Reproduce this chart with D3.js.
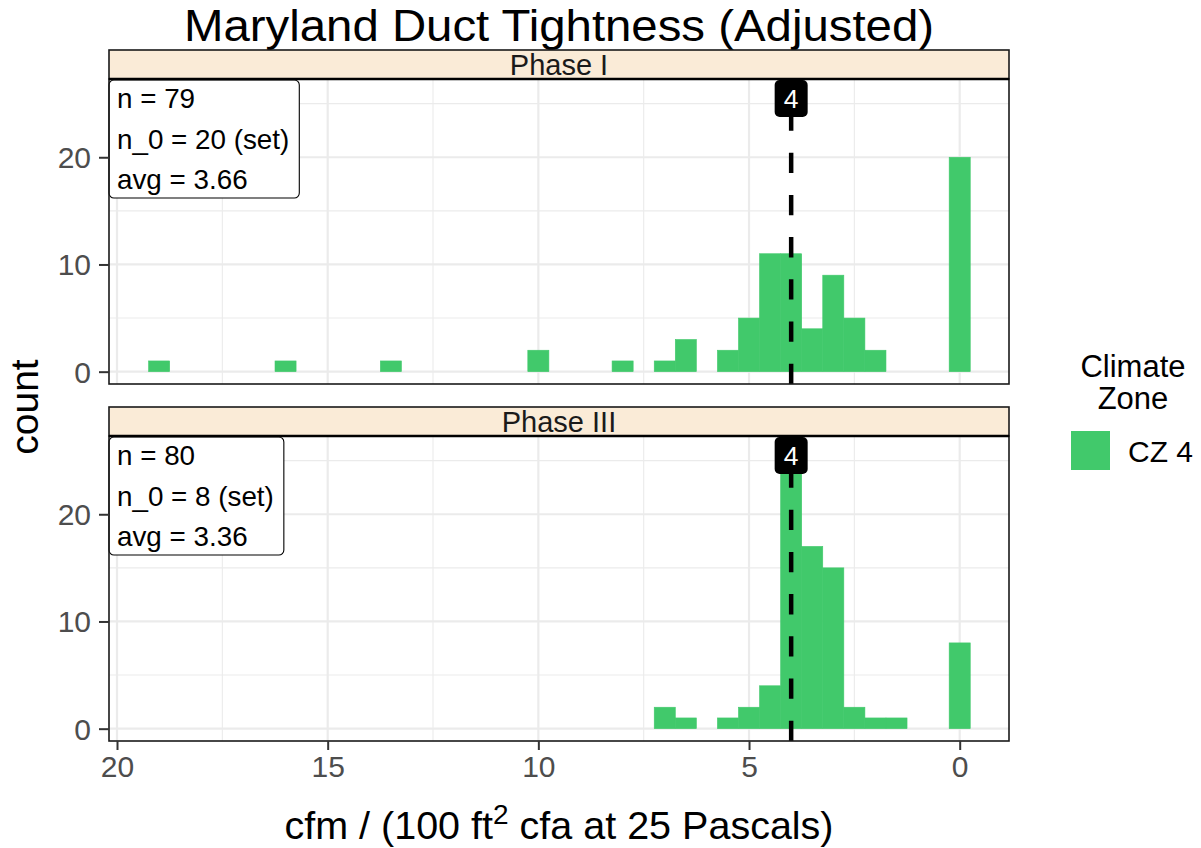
<!DOCTYPE html>
<html>
<head>
<meta charset="utf-8">
<script src="https://cdn.jsdelivr.net/npm/d3@7"></script>
<style>
  html, body { margin: 0; padding: 0; background: #fff; }
  svg { display: block; font-family: "Liberation Sans", Arial, Helvetica, sans-serif; }
</style>
</head>
<body>
<svg id="chart" width="1201" height="848"></svg>
<script>
// ---------------- data ----------------
const facets = ["Phase I", "Phase III"];
const binWidth = 0.5;
// bin centres (cfm / 100 ft2) and counts
const phase1Bins   = [19, 16, 13.5, 10, 8, 7, 6.5, 5.5, 5, 4.5, 4, 3.5, 3, 2.5, 2, 0];
const phase1Counts = [1,  1,  1,    2,  1, 1, 3,   2,   5, 11,  11, 4,   9, 5,   2, 20];
const phase3Bins   = [7, 6.5, 5.5, 5, 4.5, 4,  3.5, 3,  2.5, 2, 1.5, 0];
const phase3Counts = [2, 1,   1,   2, 4,   26, 17,  15, 2,   1, 1,   8];
const statN   = [79, 80];
const statN0  = [20, 8];
const statAvg = ["3.66", "3.36"];
const targetValue = 4;
const xTicks = [20, 15, 10, 5, 0];
const xMinor = [17.5, 12.5, 7.5, 2.5];
const yTicks = [0, 10, 20];
const yMinor = [5, 15, 25];
const legendLabels = ["CZ 4"];

// ---------------- layout ----------------
const svg = d3.select("#chart");
const left = 109, right = 1009;
const panels = [
  { stripTop: 50, top: 79, bottom: 384 },
  { stripTop: 407, top: 436, bottom: 741 }
];
const green = "#41C96B";
const gridCol = "#EBEBEB";

const x = d3.scaleLinear().domain([20.19, -1.17]).range([left, right]);

const seriesData = [
  phase1Bins.map((b, i) => ({ bin: b, count: phase1Counts[i] })),
  phase3Bins.map((b, i) => ({ bin: b, count: phase3Counts[i] }))
];

// title
svg.append("text")
  .attr("x", (left + right) / 2).attr("y", 40.5)
  .attr("text-anchor", "middle")
  .style("font-size", "44.5px").style("fill", "#000")
  .attr("textLength", 750).attr("lengthAdjust", "spacingAndGlyphs")
  .text("Maryland Duct Tightness (Adjusted)");

panels.forEach((p, pi) => {
  const y = d3.scaleLinear().domain([-1.15, 27.3]).range([p.bottom, p.top]);
  const g = svg.append("g");

  g.append("rect").attr("x", left).attr("y", p.top)
    .attr("width", right - left).attr("height", p.bottom - p.top).attr("fill", "#fff");

  // grid minor
  g.selectAll(".vminor").data(xMinor).enter().append("line")
    .attr("x1", d => x(d)).attr("x2", d => x(d)).attr("y1", p.top).attr("y2", p.bottom)
    .attr("stroke", gridCol).attr("stroke-width", 1.1);
  g.selectAll(".hminor").data(yMinor).enter().append("line")
    .attr("x1", left).attr("x2", right).attr("y1", d => y(d)).attr("y2", d => y(d))
    .attr("stroke", gridCol).attr("stroke-width", 1.1);
  // grid major
  g.selectAll(".vmajor").data(xTicks).enter().append("line")
    .attr("x1", d => x(d)).attr("x2", d => x(d)).attr("y1", p.top).attr("y2", p.bottom)
    .attr("stroke", gridCol).attr("stroke-width", 2.2);
  g.selectAll(".hmajor").data(yTicks).enter().append("line")
    .attr("x1", left).attr("x2", right).attr("y1", d => y(d)).attr("y2", d => y(d))
    .attr("stroke", gridCol).attr("stroke-width", 2.2);

  // bars
  g.selectAll(".bar").data(seriesData[pi]).enter().append("rect")
    .attr("x", d => x(d.bin + binWidth / 2))
    .attr("width", d => x(d.bin - binWidth / 2) - x(d.bin + binWidth / 2))
    .attr("y", d => y(d.count))
    .attr("height", d => y(0) - y(d.count))
    .attr("fill", green).attr("stroke", green).attr("stroke-width", 0.6);

  // dashed target line (drawn bottom to top)
  g.append("line")
    .attr("x1", x(targetValue)).attr("x2", x(targetValue))
    .attr("y1", p.bottom).attr("y2", p.top)
    .attr("stroke", "#000").attr("stroke-width", 4.5)
    .attr("stroke-dasharray", "20.3,21.9");

  // target label
  const lbW = 33, lbH = 37;
  g.append("rect")
    .attr("x", x(targetValue) - lbW / 2).attr("y", p.top + 1)
    .attr("width", lbW).attr("height", lbH).attr("rx", 5).attr("ry", 5)
    .attr("fill", "#000");
  g.append("text")
    .attr("x", x(targetValue)).attr("y", p.top + 1 + 28)
    .attr("text-anchor", "middle")
    .style("font-size", "26.5px").style("fill", "#fff")
    .text(String(targetValue));

  // stats label
  const lines = ["n = " + statN[pi], "n_0 = " + statN0[pi] + " (set)", "avg = " + statAvg[pi]];
  const lab = g.append("g");
  const box = lab.append("rect")
    .attr("x", left).attr("y", p.top + 1).attr("height", 118)
    .attr("rx", 5).attr("ry", 5)
    .attr("fill", "#fff").attr("stroke", "#000").attr("stroke-width", 1.1);
  let maxW = 0;
  lines.forEach((t, i) => {
    const tx = lab.append("text")
      .attr("x", left + 8).attr("y", p.top + 1 + 28.3 + i * 40.5)
      .style("font-size", "27.8px").style("fill", "#000")
      .text(t);
    maxW = Math.max(maxW, tx.node().getComputedTextLength());
  });
  box.attr("width", maxW + 18);

  // panel border
  g.append("rect").attr("x", left).attr("y", p.top)
    .attr("width", right - left).attr("height", p.bottom - p.top)
    .attr("fill", "none").attr("stroke", "#1a1a1a").attr("stroke-width", 1.6);

  // strip
  g.append("rect").attr("x", left).attr("y", p.stripTop)
    .attr("width", right - left).attr("height", p.top - p.stripTop)
    .attr("fill", "#FAEBD7").attr("stroke", "#1a1a1a").attr("stroke-width", 1.6);
  g.append("line").attr("x1", left).attr("x2", right).attr("y1", p.top).attr("y2", p.top)
    .attr("stroke", "#000").attr("stroke-width", 2.6);
  g.append("text")
    .attr("x", (left + right) / 2).attr("y", p.top - 4)
    .attr("text-anchor", "middle")
    .style("font-size", "29px").style("fill", "#1a1a1a")
    .text(facets[pi]);

  // y axis
  const ya = svg.append("g").attr("transform", `translate(${left},0)`)
    .call(d3.axisLeft(y).tickValues(yTicks).tickSize(10).tickPadding(8));
  ya.select(".domain").remove();
  ya.selectAll(".tick line").attr("stroke", "#333").attr("stroke-width", 2);
  ya.selectAll(".tick text").style("font-size", "30px").style("fill", "#4D4D4D")
    .style("font-family", "Liberation Sans, Arial, sans-serif").attr("dy", "0.35em");

  // x axis ticks only on bottom panel
  if (pi === panels.length - 1) {
    const xa = svg.append("g").attr("transform", `translate(0,${p.bottom})`)
      .call(d3.axisBottom(x).tickValues(xTicks).tickSize(9).tickPadding(6).tickFormat(d3.format("d")));
    xa.select(".domain").remove();
    xa.selectAll(".tick line").attr("stroke", "#333").attr("stroke-width", 2);
    xa.selectAll(".tick text").style("font-size", "30px").style("fill", "#4D4D4D")
      .style("font-family", "Liberation Sans, Arial, sans-serif");
  }
});

// axis titles
svg.append("text")
  .attr("transform", "translate(38,407) rotate(-90)")
  .attr("text-anchor", "middle")
  .style("font-size", "39px").style("fill", "#000")
  .text("count");

const xt = svg.append("text")
  .attr("x", (left + right) / 2).attr("y", 839)
  .attr("text-anchor", "middle")
  .style("font-size", "39.5px").style("fill", "#000");
xt.append("tspan").text("cfm / (100 ft");
xt.append("tspan").attr("dy", -15).style("font-size", "28px").text("2");
xt.append("tspan").attr("dy", 15).text(" cfa at 25 Pascals)");

// legend
const lg = svg.append("g");
lg.append("text").attr("x", 1133).attr("y", 377).attr("text-anchor", "middle")
  .style("font-size", "31px").text("Climate");
lg.append("text").attr("x", 1133).attr("y", 409).attr("text-anchor", "middle")
  .style("font-size", "31px").text("Zone");
lg.selectAll(".key").data(legendLabels).enter().append("rect")
  .attr("x", 1071).attr("y", (d, i) => 431 + i * 40).attr("width", 39).attr("height", 39)
  .attr("fill", green);
lg.selectAll(".keytxt").data(legendLabels).enter().append("text")
  .attr("x", 1128).attr("y", (d, i) => 462 + i * 40)
  .style("font-size", "30px").text(d => d);
</script>
</body>
</html>
